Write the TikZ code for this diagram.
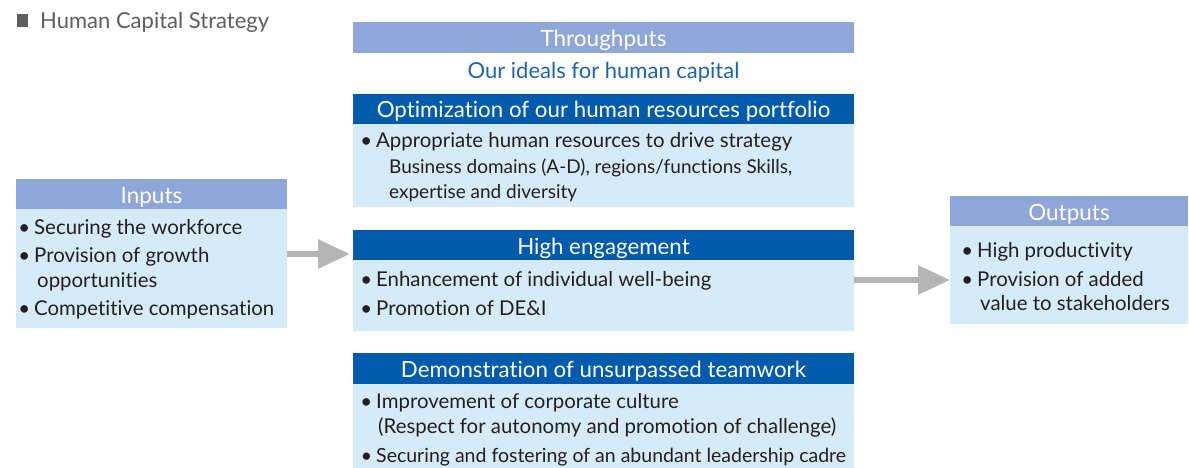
\documentclass[tikz,border=0pt]{standalone}
\usepackage{fontspec}
\setmainfont{Lato}[Ligatures={NoCommon}]
\usetikzlibrary{arrows.meta,calc}
\definecolor{hdrlight}{HTML}{8FA6D8}
\definecolor{hdrdark}{HTML}{005BAC}
\definecolor{bodyfill}{HTML}{D5EBF8}
\definecolor{ideal}{HTML}{1F63AE}
\definecolor{arrgray}{HTML}{B5B5B5}
\definecolor{titlegray}{HTML}{5E5E5E}
\definecolor{txt}{HTML}{231F20}
\begin{document}
\begin{tikzpicture}[x=1pt,y=-1pt,
  panel/.style={inner sep=0pt,outer sep=0pt,anchor=north west,draw=none},
  lighthdr/.style={panel,fill=hdrlight,text=white,font=\fontsize{22.5}{26}\selectfont,text height=18pt,text depth=0pt},
  darkhdr/.style={panel,fill=hdrdark,text=white,font=\fontsize{22.3}{26}\selectfont,text height=18pt,text depth=0pt},
  bodybox/.style={panel,fill=bodyfill},
  item/.style={inner sep=0pt,anchor=base west,text=txt,font=\fontsize{20.4}{24}\selectfont},
  subitem/.style={inner sep=0pt,anchor=base west,text=txt,font=\fontsize{19}{22}\selectfont},
  bigarrow/.style={draw=arrgray,line width=6pt,-{Triangle[length=32pt,width=28pt]}}
]
\useasboundingbox (0,0) rectangle (1189,468);
\newcommand{\bul}{\llap{\textbullet\hspace{4pt}}}
% title
\fill[titlegray] (17,14) rectangle (28,27);
\node[inner sep=0pt,anchor=base west,text=titlegray,font=\fontsize{22}{26}\selectfont] (title) at (40,29) {Human Capital Strategy};

% Throughputs
\node[lighthdr,minimum width=501pt,minimum height=31pt] (thr) at (353,22) {Throughputs};
\node[inner sep=0pt,anchor=base,text=ideal,font=\fontsize{22}{26}\selectfont] (ideals) at (603.5,79) {Our ideals for human capital};

% Optimization
\node[darkhdr,minimum width=501pt,minimum height=30pt] (opth) at (353,94) {Optimization of our human resources portfolio};
\node[bodybox,minimum width=501pt,minimum height=83pt] (optb) at (353,124) {};
\node[item] (o1) at (376,148) {\bul Appropriate human resources to drive strategy};
\node[subitem] (o2) at (389,174) {Business domains (A-D), regions/functions Skills,};
\node[subitem] (o3) at (389,198) {expertise and diversity};

% High engagement
\node[darkhdr,minimum width=501pt,minimum height=30pt] (engh) at (353,230) {High engagement};
\node[bodybox,minimum width=501pt,minimum height=71pt] (engb) at (353,260) {};
\node[item] (e1) at (376,286) {\bul Enhancement of individual well-being};
\node[item] (e2) at (376,315) {\bul Promotion of DE\&I};

% Teamwork
\node[darkhdr,minimum width=501pt,minimum height=31pt] (teamh) at (353,353) {Demonstration of unsurpassed teamwork};
\node[bodybox,minimum width=501pt,minimum height=84pt] (teamb) at (353,384) {};
\node[item] (t1) at (376,408) {\bul Improvement of corporate culture};
\node[item] (t2) at (378,433) {(Respect for autonomy and promotion of challenge)};
\node[item,font=\fontsize{19.5}{24}\selectfont] (t3) at (376,462) {\bul Securing and fostering of an abundant leadership cadre};

% Inputs
\node[lighthdr,minimum width=271pt,minimum height=30pt] (inh) at (16,179) {Inputs};
\node[bodybox,minimum width=271pt,minimum height=119pt] (inb) at (16,209) {};
\node[item] (i1) at (34,234) {\bul Securing the workforce};
\node[item] (i2) at (34,262) {\bul Provision of growth};
\node[item] (i3) at (37,287) {opportunities};
\node[item] (i4) at (34,315) {\bul Competitive compensation};

% Outputs
\node[lighthdr,minimum width=238pt,minimum height=30pt] (outh) at (950,196) {Outputs};
\node[bodybox,minimum width=238pt,minimum height=98pt] (outb) at (950,226) {};
\node[item] (p1) at (977,257) {\bul High productivity};
\node[item] (p2) at (977,286) {\bul Provision of added};
\node[item] (p3) at (980,310) {value to stakeholders};

% arrows
\coordinate (a1) at (0,254);
\coordinate (a2) at (0,280);
\draw[bigarrow] (inb.east |- a1) -- ([xshift=-3pt]engh.west |- a1);
\draw[bigarrow] (engb.east |- a2) -- (outb.west |- a2);
\end{tikzpicture}
\end{document}
